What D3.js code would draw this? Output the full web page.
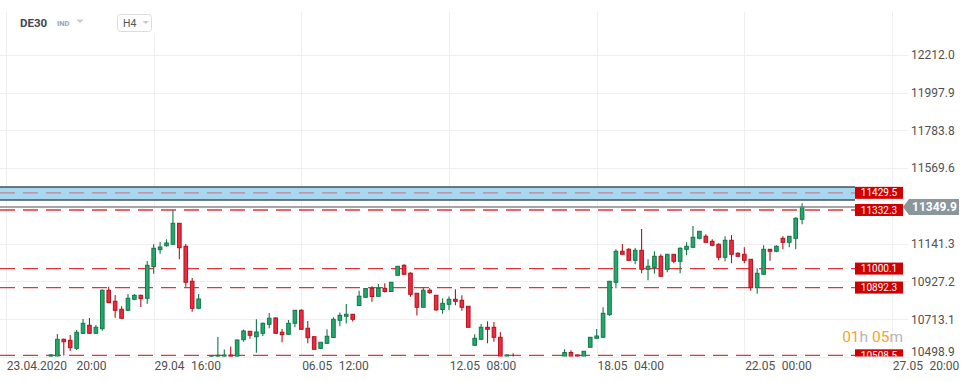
<!DOCTYPE html>
<html><head><meta charset="utf-8">
<script src="https://cdn.jsdelivr.net/npm/d3@7"></script>
<style>
html,body{margin:0;padding:0;background:#fff;}
svg{display:block;font-family:Roboto,"Noto Sans",sans-serif;}
</style></head>
<body>
<svg id="chart" width="970" height="382"></svg>
<script>
// ---------- DATA ----------
const N = null;
const openValues = [
 N,N,N,N,N,N,N,10501.8,10493.3,10599.3,
 10593.6,10548.3,10633.3,10678.7,10633.3,10659.4,10877.1,10814.7,10769.4,10763.7,
 10826.1,10848.7,10831.7,11010.9,11107.2,11129.9,11137.9,11256.9,11126.5,10928.1,
 10775.0,N,10499.0,10500.7,10500.7,10510.3,10500.0,10597.0,10644.6,10614.0,
 10633.3,10684.3,10720.0,10639.0,10627.6,10690.0,10763.7,10661.7,10614.0,10548.3,
 10576.6,10609.5,10707.0,10729.7,10741.0,10790.9,10837.4,10888.4,10843.1,10888.4,
 10870.3,10962.1,11018.8,10974.0,10860.1,10780.7,10877.1,10848.7,10768.2,10797.7,
 10826.1,10820.4,10786.4,10565.3,10599.3,10667.3,10667.3,10610.6,10490.0,10495.0,
 N,N,N,N,N,N,N,10495.0,10524.5,10510.3,
 10490.0,10553.9,10605.0,10610.6,10738.8,10922.4,11098.2,11109.5,11047.1,11103.8,
 10996.1,11006.3,11069.8,10996.1,11081.2,11041.5,11109.5,11120.8,11171.9,11183.2,
 11154.9,11137.9,11064.2,11160.5,11086.8,11081.2,11052.8,10891.8,10967.8,11109.5,
 11098.2,11171.9,11149.2,11171.9,11279.6];
const highValues = [
 N,N,N,N,N,N,N,10516.0,10629.3,10603.8,
 10623.7,10652.0,10714.4,10720.0,10680.4,10881.6,10897.5,10850.4,10786.4,10856.1,
 10856.1,10852.1,11043.2,11137.9,11150.9,11166.2,11330.6,11258.6,11139.5,10946.8,
 10856.1,N,10510.3,10612.3,10541.5,10558.5,10598.1,10654.8,10646.3,10712.7,
 10694.5,10748.4,10724.0,10657.7,10708.7,10765.4,10769.4,10703.0,10615.2,10584.0,
 10656.0,10724.0,10751.2,10799.4,10742.7,10874.2,10888.4,10900.3,10912.8,10917.3,
 10924.1,11014.8,11025.0,10979.1,10861.8,10894.1,10888.4,10850.4,10831.7,10841.9,
 10882.7,10849.3,10788.1,10628.2,10686.0,10701.9,10697.4,10639.5,10513.1,10519.9,
 N,N,N,N,N,N,N,10542.6,10536.9,10512.0,
 10533.0,10612.3,10657.7,10780.7,10929.8,11109.5,11139.5,11115.2,11116.9,11224.6,
 11052.8,11098.2,11081.2,11082.9,11082.9,11120.8,11149.2,11241.6,11213.3,11194.5,
 11166.2,11143.5,11183.2,11190.6,11092.5,11120.8,11054.5,11001.8,11132.2,11111.2,
 11132.2,11183.2,11184.9,11290.9,11370.3];
const lowValues = [
 N,N,N,N,N,N,N,10499.0,10487.6,10507.5,
 10533.0,10538.6,10629.3,10632.2,10629.3,10648.1,10805.1,10721.7,10717.2,10758.0,
 10820.4,10782.4,10801.1,10971.2,11084.6,11124.2,11136.7,11052.8,10897.5,10755.8,
 10769.4,N,10493.3,10496.1,10496.1,10496.1,10490.5,10585.7,10602.7,10523.3,
 10618.0,10661.7,10629.3,10582.3,10623.7,10667.3,10654.8,10576.6,10541.5,10544.3,
 10572.7,10608.4,10673.0,10688.9,10700.2,10789.8,10836.3,10812.5,10841.9,10864.6,
 10869.2,10961.0,10966.7,10840.8,10734.2,10779.6,10857.2,10760.9,10744.4,10763.7,
 10792.0,10760.9,10666.2,10564.2,10598.2,10576.6,10585.7,10460.0,10480.0,10470.0,
 N,N,N,N,N,N,N,10485.0,10480.0,10478.0,
 10480.0,10552.8,10603.8,10609.5,10733.1,10888.4,11080.0,11046.0,11024.5,10973.5,
 10933.8,10972.3,10955.3,10979.1,11030.1,10973.5,11075.5,11119.7,11166.2,11148.1,
 11126.5,11047.1,11041.5,11030.1,11064.2,11030.1,10874.8,10857.8,10966.7,11044.9,
 11092.5,11109.5,11120.8,11109.5,11251.2];
const closeValues = [
 N,N,N,N,N,N,N,10510.3,10599.3,10585.7,
 10551.7,10639.0,10690.0,10633.3,10667.3,10877.1,10806.8,10763.7,10718.3,10831.7,
 10848.7,10829.5,11018.8,11115.2,11122.5,11145.2,11256.9,11118.6,10922.4,10775.0,
 10827.8,N,10504.6,10508.6,10510.3,10500.7,10595.3,10646.3,10622.0,10640.7,
 10690.0,10718.3,10633.3,10625.4,10690.0,10763.7,10656.0,10608.4,10542.6,10582.3,
 10616.3,10712.7,10735.3,10741.0,10712.7,10843.6,10887.3,10841.9,10887.3,10870.3,
 10922.4,11013.1,10967.8,10854.4,10780.7,10877.1,10863.5,10766.5,10803.4,10826.1,
 10814.7,10780.7,10667.3,10605.0,10667.3,10656.0,10610.6,10470.6,10510.3,10480.0,
 N,N,N,N,N,N,N,10524.5,10495.0,10490.0,
 10531.3,10610.6,10618.0,10746.7,10928.1,11098.2,11081.2,11047.1,11103.8,10996.1,
 11013.1,11069.8,10956.4,11081.2,11041.5,11115.2,11126.5,11177.5,11211.5,11149.2,
 11132.2,11064.2,11160.5,11081.2,11069.8,11047.1,10891.8,10973.5,11109.5,11098.2,
 11126.5,11149.2,11183.2,11285.2,11349.9];

const priceTicks = [12212.0, 11997.9, 11783.8, 11569.6, 11355.5, 11141.3, 10927.2, 10713.1, 10498.9];
const timeTickIndex = [0, 23, 46, 69, 92, 115, 138];
const timeTickDate = ["23.04.2020", "29.04", "06.05", "12.05", "18.05", "22.05", "27.05"];
const timeTickTime = ["20:00", "16:00", "12:00", "08:00", "04:00", "00:00", "20:00"];
const levelValues = [11429.5, 11332.3, 11000.1, 10892.3, 10508.5];
const zoneRange = [11389.0, 11462.7];
const currentPrice = 11349.9;
const symbol = "DE30", symbolType = "IND", timeframe = "H4";
const countdown = ["01", "h ", "05", "m"];

// ---------- LAYOUT ----------
const svg = d3.select("#chart");
const W = 970, H = 382;
const plotRight = 855, plotBottom = 356.5;
const x = d3.scaleLinear().domain([0, 138]).range([6, 892]);
const y = d3.scaleLinear().domain([10498.9, 12212.0]).range([357, 54.8]);

const candles = openValues.map((o, i) => ({i, o, h: highValues[i], l: lowValues[i], c: closeValues[i]}))
  .filter(d => d.o != null);

svg.append("defs").append("clipPath").attr("id", "plotclip")
  .append("rect").attr("x", 0).attr("y", 0).attr("width", plotRight).attr("height", plotBottom);
svg.select("defs").append("clipPath").attr("id", "plotclip2")
  .append("rect").attr("x", 0).attr("y", 0).attr("width", W).attr("height", plotBottom);

// grid
const grid = svg.append("g");
grid.selectAll("line.h").data(priceTicks).join("line")
  .attr("x1", 0).attr("x2", 908).attr("y1", d => Math.round(y(d)) + 0.5).attr("y2", d => Math.round(y(d)) + 0.5)
  .attr("stroke", "#efefef").attr("stroke-width", 1);
grid.selectAll("line.v").data(timeTickIndex).join("line")
  .attr("x1", d => Math.round(x(d)) + 0.5).attr("x2", d => Math.round(x(d)) + 0.5)
  .attr("y1", 12).attr("y2", 358)
  .attr("stroke", "#efefef").attr("stroke-width", 1);

// zone
const plot = svg.append("g").attr("clip-path", "url(#plotclip)");
plot.append("rect")
  .attr("x", 0).attr("width", plotRight)
  .attr("y", y(zoneRange[1])).attr("height", y(zoneRange[0]) - y(zoneRange[1]))
  .attr("fill", "#a8d8f0");
plot.selectAll("line.zb").data(zoneRange).join("line")
  .attr("x1", 0).attr("x2", plotRight).attr("y1", d => y(d)).attr("y2", d => y(d))
  .attr("stroke", "#3f5361").attr("stroke-width", 1.5);

// levels
plot.selectAll("line.lv").data(levelValues).join("line")
  .attr("x1", 0).attr("x2", plotRight)
  .attr("y1", d => y(d)).attr("y2", d => y(d))
  .attr("stroke", "#e01e24")
  .attr("stroke-opacity", (d, i) => i === 0 ? 0.45 : 0.9)
  .attr("stroke-width", 1.3)
  .attr("stroke-dasharray", "15,8");

// current price line
svg.append("g").attr("clip-path", "url(#plotclip2)").append("line")
  .attr("x1", 0).attr("x2", 903).attr("y1", y(currentPrice)).attr("y2", y(currentPrice))
  .attr("stroke", "#8a8a8a").attr("stroke-width", 1.5);

// candles
const cg = plot.append("g");
const up = d => d.c >= d.o;
const bodyW = 3.6;
cg.selectAll("line.w").data(candles).join("line")
  .attr("x1", d => x(d.i)).attr("x2", d => x(d.i))
  .attr("y1", d => y(d.h)).attr("y2", d => y(d.l))
  .attr("stroke", d => up(d) ? "#12784a" : "#b0141f").attr("stroke-width", 1.1);
cg.selectAll("rect.b").data(candles).join("rect")
  .attr("x", d => x(d.i) - bodyW / 2)
  .attr("width", bodyW)
  .attr("y", d => y(Math.max(d.o, d.c)))
  .attr("height", d => Math.max(1, Math.abs(y(d.o) - y(d.c))))
  .attr("fill", d => up(d) ? "#22a86a" : "#f2293d")
  .attr("stroke", d => up(d) ? "#12784a" : "#b0141f").attr("stroke-width", 1);

// level labels
const lg = svg.append("g").attr("clip-path", "url(#plotclip2)");
lg.selectAll("rect").data(levelValues).join("rect")
  .attr("x", 855).attr("width", 48).attr("y", d => y(d) - 6).attr("height", 12)
  .attr("fill", "#d10000");
lg.selectAll("text").data(levelValues).join("text")
  .attr("x", 879).attr("y", d => y(d) + 3.6)
  .attr("text-anchor", "middle").attr("fill", "#fff").attr("font-size", 10)
  .text(d => d.toFixed(1));

// price axis labels (the one hidden under the current-price label is not drawn)
const cy = y(currentPrice);
svg.append("g").selectAll("text").data(priceTicks.filter(v => Math.abs(y(v) - cy) > 12)).join("text")
  .attr("x", 911).attr("y", d => Math.min(y(d), 352) + 4.3)
  .attr("fill", "#505050").attr("font-size", 12)
  .text(d => d.toFixed(1));

// current price label
svg.append("path")
  .attr("d", `M903,${cy} L909,${cy - 8} L959,${cy - 8} L959,${cy + 8} L909,${cy + 8} Z`)
  .attr("fill", "#8b959c");
svg.append("text").attr("x", 912).attr("y", cy + 4.4)
  .attr("fill", "#fff").attr("font-size", 12).attr("font-weight", "bold")
  .text(currentPrice.toFixed(1));

// time axis labels
const tl = svg.append("g").selectAll("text").data(timeTickIndex).join("text")
  .attr("x", d => x(d) + 0.8).attr("y", 369.5)
  .attr("fill", "#505050").attr("font-size", 12);
tl.append("tspan").text((d, i) => timeTickDate[i]);
tl.append("tspan").attr("dx", (d, i) => i === 0 ? 9.5 : 6.5).text((d, i) => timeTickTime[i]);

// countdown
const cd = svg.append("text").attr("x", 903).attr("y", 342).attr("text-anchor", "end")
  .attr("font-size", 15.5);
cd.selectAll("tspan").data(countdown).join("tspan")
  .attr("fill", (d, i) => i % 2 === 0 ? "#f5a524" : "#b5b5b5")
  .text(d => d);

// header
svg.append("rect").attr("x", 8).attr("y", 0).attr("width", 160).attr("height", 33).attr("fill", "#fff");
svg.append("text").attr("x", 20).attr("y", 26.5).attr("font-size", 11.5).attr("font-weight", "bold")
  .attr("fill", "#3d4750").text(symbol);
svg.append("text").attr("x", 57).attr("y", 26).attr("font-size", 7.5).attr("font-weight", "bold")
  .attr("fill", "#9aa3ab").text(symbolType);
svg.append("path").attr("d", "M76.5,19.5 L83.5,19.5 L80,23 Z").attr("fill", "#c8c8c8");
svg.append("rect").attr("x", 117.5).attr("y", 14.5).attr("width", 34).attr("height", 17).attr("rx", 3)
  .attr("fill", "#fff").attr("stroke", "#dcdcdc");
svg.append("text").attr("x", 123).attr("y", 26.5).attr("font-size", 10.5).attr("fill", "#555").text(timeframe);
svg.append("path").attr("d", "M142.5,21 L149,21 L145.75,24 Z").attr("fill", "#c8c8c8");
</script>
</body></html>
